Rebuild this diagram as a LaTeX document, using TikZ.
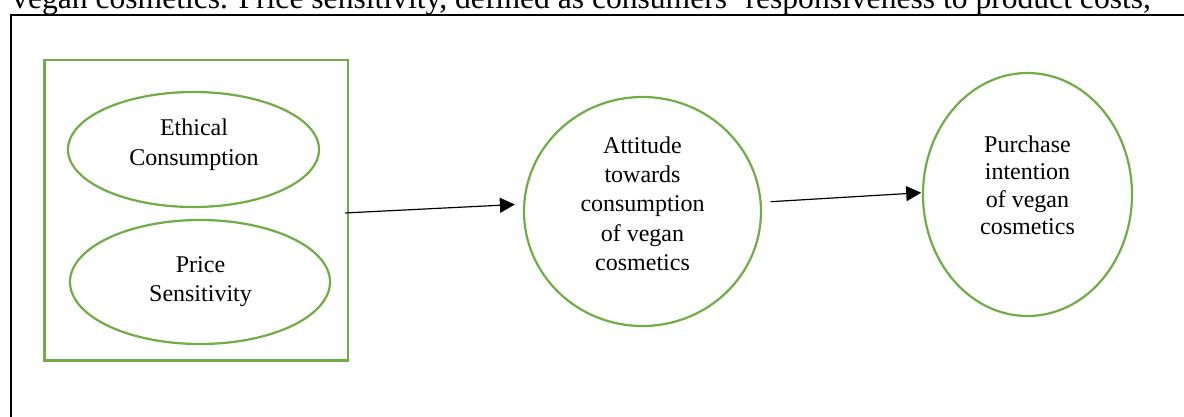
\documentclass[tikz,border=0pt]{standalone}
\usepackage{fontspec}
\setmainfont{Liberation Serif}
\usetikzlibrary{shapes.geometric,arrows.meta}
\definecolor{grn}{RGB}{112,173,71}
\begin{document}
\begin{tikzpicture}[x=1pt,y=-1pt,
  oval/.style={draw=grn,line width=2.2pt,ellipse,inner sep=0pt},
  lbl/.style={anchor=north,inner sep=0pt,align=center},
  arr/.style={-{Triangle[length=15pt,width=15pt]},line width=1.2pt}]
\useasboundingbox (0,0) rectangle (1184,416);
\clip (0,0) rectangle (1184,416);
\node[anchor=base west,inner sep=0pt,font=\fontsize{31.6}{36}\selectfont] (para) at (12,8.3)
  {vegan cosmetics. Price sensitivity, defined as consumers’ responsiveness to product costs,};
\draw[line width=2pt] (11,430) -- (11,14.7) -- (1200,14.7);
\node[draw=grn,line width=2.2pt,minimum width=303.5pt,minimum height=300.5pt,inner sep=0pt] (box) at (196.25,210.25) {};
\node[oval,minimum width=251pt,minimum height=115pt] (eth) at (193.5,149.5) {};
\node[oval,minimum width=260pt,minimum height=124pt] (pri) at (200,282) {};
\node[oval,minimum width=237pt,minimum height=229pt] (att) at (642.5,211.5) {};
\node[oval,minimum width=209pt,minimum height=243pt] (pur) at (1027.5,194.5) {};
\node[lbl,font=\fontsize{24}{30}\selectfont] (ethT) at (194,115) {\rule{0pt}{20pt}Ethical\\Consumption};
\node[lbl,font=\fontsize{24}{29}\selectfont] (priT) at (200.5,252) {\rule{0pt}{20pt}Price\\Sensitivity};
\node[lbl,font=\fontsize{24}{29.3}\selectfont] (attT) at (642.5,133) {\rule{0pt}{20pt}Attitude\\towards\\consumption\\of vegan\\cosmetics};
\node[lbl,font=\fontsize{24}{27.5}\selectfont] (purT) at (1027.5,132) {\rule{0pt}{20pt}Purchase\\intention\\of vegan\\cosmetics};
\draw[arr] ([xshift=-4pt,yshift=-2.7pt]box.east) -- ([xshift=-8pt,yshift=7pt]att.west);
\draw[arr] ([xshift=8.5pt,yshift=9.8pt]att.east) -- ([xshift=-0.7pt,yshift=1.8pt]pur.west);
\end{tikzpicture}
\end{document}
